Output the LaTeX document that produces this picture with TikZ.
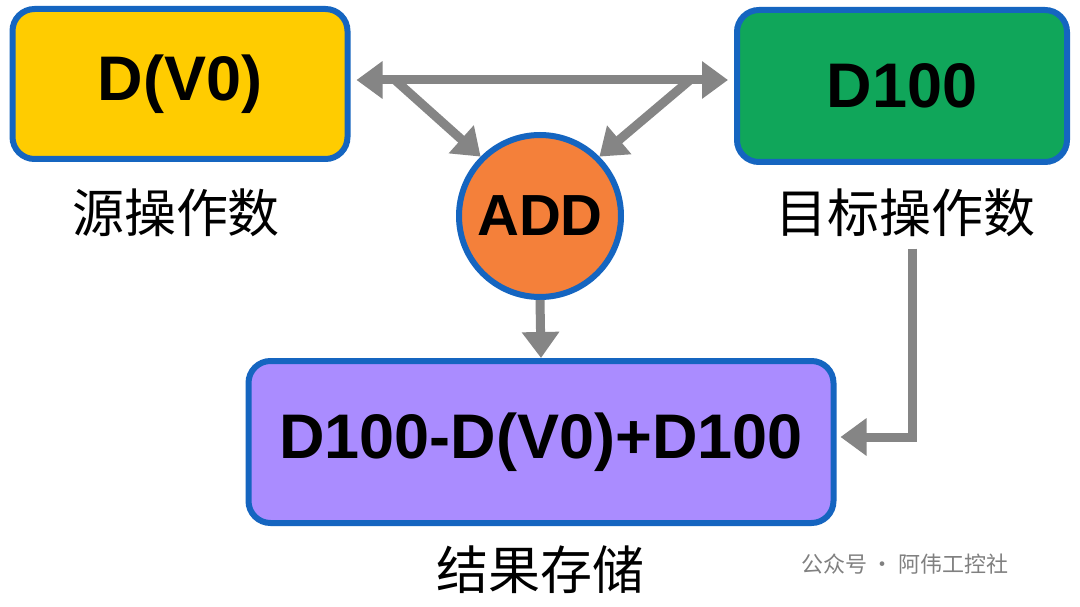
\documentclass[tikz,border=0pt]{standalone}
\usepackage{fontspec}
\setmainfont{Liberation Sans}
\newfontfamily\cjk{Noto Sans CJK SC}
\usetikzlibrary{arrows.meta}
\definecolor{boxblue}{HTML}{1565C0}
\definecolor{arrgray}{HTML}{858585}
\tikzset{every picture/.style={line width=0.75pt}}
\tikzset{
  opbox/.style={draw=boxblue,line width=6pt,rounded corners=22pt,font=\bfseries\fontsize{63}{65}\selectfont},
  cnlabel/.style={font=\cjk\fontsize{52}{54}\selectfont},
  flow/.style={draw=arrgray,line width=9pt,-{Triangle[length=26pt,width=36pt]}}
}
\begin{document}
\begin{tikzpicture}[x=1pt,y=1pt,yscale=-1,xscale=1]
\useasboundingbox[fill=white] (0,0) rectangle (1080,607);
\node (src) [opbox,fill={rgb,255:red,255;green,204;blue,0},minimum width=335pt,minimum height=150pt] at (180,84) {D(V0)};
\node (dst) [opbox,fill={rgb,255:red,16;green,166;blue,90},minimum width=330pt,minimum height=152pt] at (902,86) {D100};
\node (add) [circle,draw=boxblue,line width=6pt,fill={rgb,255:red,244;green,128;blue,58},minimum size=162pt,inner sep=0pt,font=\bfseries\fontsize{58}{60}\selectfont] at (540,216) {ADD};
\node (res) [opbox,fill={rgb,255:red,170;green,140;blue,255},minimum width=585pt,minimum height=162pt] at (541,442) {D100-D(V0)+D100};
% labels
\node (srcl) [cnlabel] at (176,213) {源操作数};
\node (dstl) [cnlabel] at (905,213) {目标操作数};
\node (resl) [cnlabel] at (540,570) {结果存储};
\node (mark) [font=\cjk\fontsize{22}{24}\selectfont,text=gray] at (905,564) {公众号 · 阿伟工控社};
% connectors
\coordinate (lft) at (395,80);
\coordinate (rgt) at (690,80);
\coordinate (bend) at (912,437);
\draw [flow,{Triangle[length=26pt,width=36pt]}-{Triangle[length=26pt,width=36pt]}] ([xshift=6pt,yshift=-4pt]src.east) -- ([xshift=-6pt,yshift=-6pt]dst.west);
\draw [flow] (lft) -- (add.135);
\draw [flow] (rgt) -- (add.45);
\draw [flow] (add.south) -- (res.north);
\draw [flow] ([yshift=8pt]dstl.south -| bend) -- (bend) -- ([xshift=4pt]res.east |- bend);
\end{tikzpicture}
\end{document}
